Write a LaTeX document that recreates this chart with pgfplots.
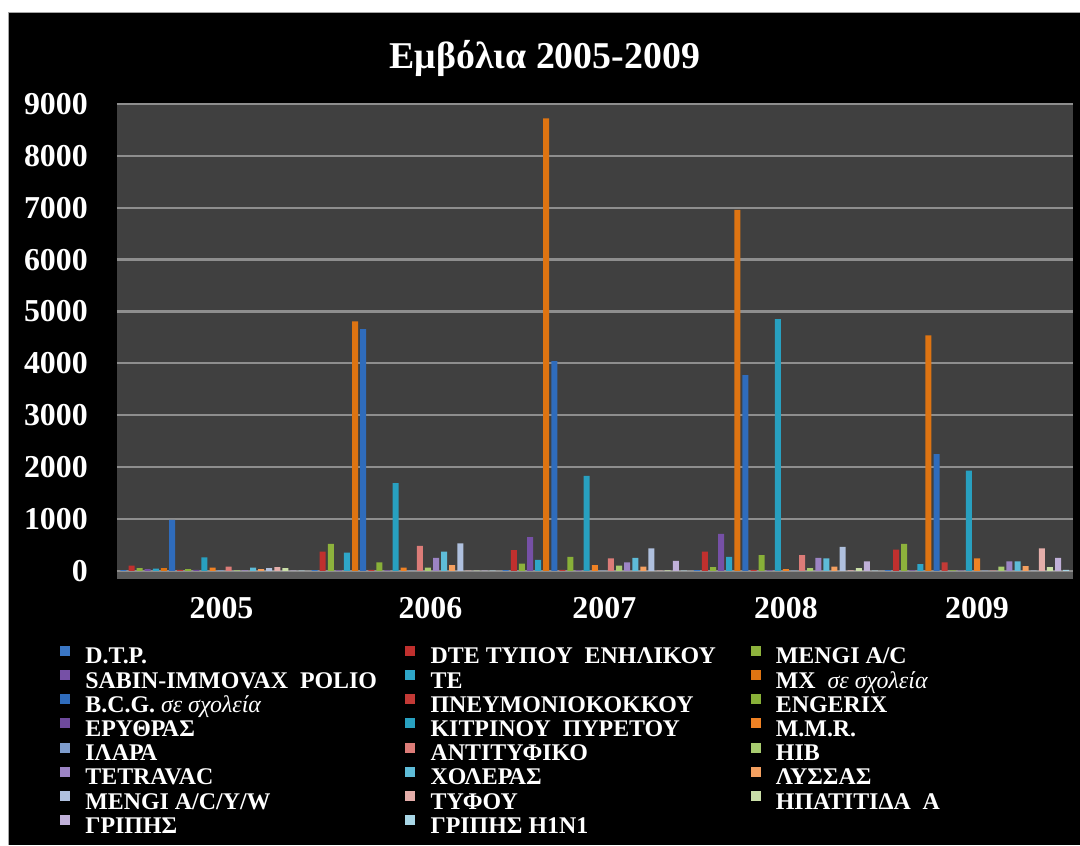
\documentclass[border=0pt]{standalone}
\usepackage{fontspec}
\setmainfont{Liberation Serif}
\usepackage{pgfplots}
\pgfplotsset{compat=1.18}

% series colours (Office palette, three tints)
\definecolor{s1}{HTML}{3A76C4}
\definecolor{s2}{HTML}{C0302E}
\definecolor{s3}{HTML}{8DB23C}
\definecolor{s4}{HTML}{7650A6}
\definecolor{s5}{HTML}{2EA6C8}
\definecolor{s6}{HTML}{DE7412}
\definecolor{s7}{HTML}{2F6CBC}
\definecolor{s8}{HTML}{C33A36}
\definecolor{s9}{HTML}{88B038}
\definecolor{s10}{HTML}{6E4A9C}
\definecolor{s11}{HTML}{28A0C0}
\definecolor{s12}{HTML}{F08224}
\definecolor{s13}{HTML}{7E9CCC}
\definecolor{s14}{HTML}{DC7C78}
\definecolor{s15}{HTML}{A8CC70}
\definecolor{s16}{HTML}{9C84C4}
\definecolor{s17}{HTML}{5EBCD8}
\definecolor{s18}{HTML}{F4A060}
\definecolor{s19}{HTML}{AFC0DE}
\definecolor{s20}{HTML}{E4AEAA}
\definecolor{s21}{HTML}{CADFA8}
\definecolor{s22}{HTML}{C0B0D8}
\definecolor{s23}{HTML}{A8D6E6}
\definecolor{plotbg}{HTML}{404040}
\definecolor{gridc}{HTML}{8E8E8E}
\definecolor{floorc}{HTML}{5C5C5C}

\pgfplotsset{
  % legend swatch: a small filled square
  swatch/.style={legend image code/.code={%
      \fill[#1] (0bp,3.5bp) rectangle (9bp,12.5bp);}},
}
% legend text cells: fixed widths give the column spacing
\newcommand{\legtxt}[1]{\makebox[320bp][l]{#1}}
\newcommand{\legtxtc}[1]{\makebox[280bp][l]{#1}}
\newcommand{\grit}[1]{{\mdseries\itshape #1}}
% one series: colour, bar offset in its group, values, legend cell, name
\newcommand{\series}[5]{%
  \addplot[ybar, bar width=6bp, bar shift=#2bp, draw=none, fill=#1, forget plot]
    coordinates {#3};
  \addlegendimage{swatch=#1}
  \addlegendentry{#4{#5}}}

\begin{document}
\begin{tikzpicture}
  % page and chart background
  \fill[white] (0bp,0bp) rectangle (1080bp,845bp);
  \fill[black] (8bp,0bp) rectangle (1080bp,833bp);
  \draw[gray!70, line width=0.8bp] (8bp,0bp) -- (8bp,833bp) -- (1080bp,833bp);
  \node[text=white, font=\fontsize{38}{42}\selectfont\bfseries] at (545bp,787bp) {Εμβόλια 2005-2009};

  \begin{axis}[
    at={(117bp,274bp)}, anchor=south west,
    scale only axis, width=956bp, height=467bp,
    xmin=-0.5, xmax=4.5, ymin=0, ymax=9000,
    clip=false,
    axis background/.style={fill=plotbg},
    axis line style={draw=none},
    major tick length=0pt, tick style={draw=none},
    ytick={0,1000,2000,3000,4000,5000,6000,7000,8000,9000},
    yticklabels={0,1000,2000,3000,4000,5000,6000,7000,8000,9000},
    xtick={0.047,1.14,2.05,3.0,4.0},
    xticklabels={2005,2006,2007,2008,2009},
    ymajorgrids, grid style={draw=gridc, line width=2.2bp},
    yticklabel style={font=\fontsize{32}{32}\selectfont\bfseries, text=white,
      anchor=east, inner sep=0pt},
    yticklabel shift=29bp,
    xticklabel style={font=\fontsize{32}{32}\selectfont\bfseries, text=white,
      anchor=north, inner sep=0pt},
    xticklabel shift=26bp,
    legend columns=3,
    legend cell align=left,
    legend style={at={([xshift=-57bp,yshift=-75bp]axis description cs:0,0)},
      anchor=north west, fill=none, draw=none, inner sep=0pt, outer sep=0pt,
      text=white, font=\fontsize{24}{24}\selectfont\bfseries,
      row sep=0bp,
      nodes={inner sep=0pt, text height=17bp, text depth=6bp},
      /tikz/every odd column/.append style={column sep=16bp}},
  ]
    % floor of the plot area
    \fill[floorc] (axis cs:-0.5,0) rectangle ([yshift=-8bp]axis cs:4.5,0);
    \draw[gridc, line width=2.2bp] (axis cs:-0.5,0) -- (axis cs:4.5,0);

    % bars are 8.1bp apart inside each year
    \series{s1}{-89.1}{(0,15) (1,15) (2,15) (3,15) (4,15)}{\legtxt}{D.T.P.}
    \series{s2}{-81.0}{(0,100) (1,370) (2,400) (3,370) (4,410)}{\legtxt}{DTE ΤΥΠΟΥ~ ΕΝΗΛΙΚΟΥ}
    \series{s3}{-72.9}{(0,50) (1,520) (2,140) (3,70) (4,520)}{\legtxtc}{MENGI A/C}
    \series{s4}{-64.8}{(0,30) (1,10) (2,650) (3,710) (4,10)}{\legtxt}{SABIN-IMMOVAX~ POLIO}
    \series{s5}{-56.7}{(0,40) (1,350) (2,210) (3,270) (4,130)}{\legtxt}{TE}
    \series{s6}{-48.6}{(0,50) (1,4810) (2,8720) (3,6960) (4,4540)}{\legtxtc}{MX~ \grit{σε σχολεία}}
    \series{s7}{-40.5}{(0,980) (1,4660) (2,4040) (3,3770) (4,2250)}{\legtxt}{B.C.G. \grit{σε σχολεία}}
    \series{s8}{-32.4}{(0,20) (1,20) (2,20) (3,20) (4,160)}{\legtxt}{ΠΝΕΥΜΟΝΙΟΚΟΚΚΟΥ}
    \series{s9}{-24.3}{(0,30) (1,160) (2,270) (3,300) (4,10)}{\legtxtc}{ENGERIX}
    \series{s10}{-16.2}{(0,20) (1,10) (2,10) (3,10) (4,5)}{\legtxt}{ΕΡΥΘΡΑΣ}
    \series{s11}{-8.1}{(0,260) (1,1690) (2,1830) (3,4850) (4,1930)}{\legtxt}{ΚΙΤΡΙΝΟΥ~ ΠΥΡΕΤΟΥ}
    \series{s12}{0}{(0,60) (1,60) (2,110) (3,30) (4,240)}{\legtxtc}{M.M.R.}
    \series{s13}{8.1}{(0,10) (1,5) (2,5) (3,5) (4,5)}{\legtxt}{ΙΛΑΡΑ}
    \series{s14}{16.2}{(0,80) (1,480) (2,240) (3,300) (4,5)}{\legtxt}{ΑΝΤΙΤΥΦΙΚΟ}
    \series{s15}{24.3}{(0,10) (1,60) (2,100) (3,50) (4,80)}{\legtxtc}{HIB}
    \series{s16}{32.4}{(0,10) (1,250) (2,160) (3,250) (4,180)}{\legtxt}{TETRAVAC}
    \series{s17}{40.5}{(0,60) (1,370) (2,250) (3,240) (4,180)}{\legtxt}{ΧΟΛΕΡΑΣ}
    \series{s18}{48.6}{(0,30) (1,110) (2,80) (3,80) (4,90)}{\legtxtc}{ΛΥΣΣΑΣ}
    \series{s19}{56.7}{(0,50) (1,530) (2,430) (3,460) (4,5)}{\legtxt}{MENGI A/C/Y/W}
    \series{s20}{64.8}{(0,70) (1,5) (2,5) (3,10) (4,430)}{\legtxt}{ΤΥΦΟΥ}
    \series{s21}{72.9}{(0,50) (1,5) (2,10) (3,50) (4,70)}{\legtxtc}{ΗΠΑΤΙΤΙΔΑ~ Α}
    \series{s22}{81.0}{(0,5) (1,5) (2,190) (3,180) (4,250)}{\legtxt}{ΓΡΙΠΗΣ}
    \series{s23}{89.1}{(0,5) (1,5) (2,5) (3,5) (4,20)}{\legtxt}{ΓΡΙΠΗΣ H1N1}
  \end{axis}
\end{tikzpicture}
\end{document}
